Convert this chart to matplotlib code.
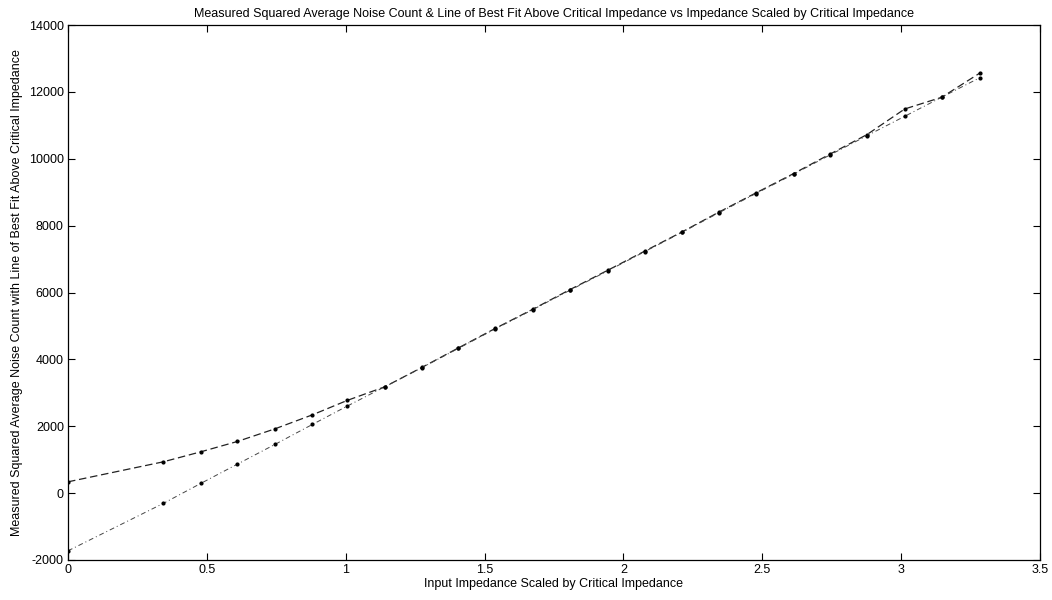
import numpy as np
import matplotlib.pyplot as plt
from matplotlib import font_manager

# impedance scaled by critical impedance
x = [0.0, 0.343, 0.478, 0.61, 0.745, 0.88, 1.005, 1.14, 1.274, 1.406, 1.538, 1.674,
     1.808, 1.944, 2.076, 2.211, 2.345, 2.477, 2.613, 2.743, 2.877, 3.013, 3.146, 3.284]

# measured squared average noise count
measured = [338, 936, 1235, 1545, 1922, 2341, 2771, 3178, 3758, 4344, 4924, 5501,
            6089, 6667, 7235, 7812, 8410, 8978, 9558, 10135, 10723, 11489, 11838, 12566]

# line of best fit above critical impedance
fit = [-1725, -308, 290, 867, 1456, 2054, 2601, 3178, 3750, 4330, 4910, 5490,
       6070, 6650, 7220, 7800, 8390, 8960, 9540, 10110, 10690, 11270, 11840, 12427]

xticks = [0, 0.5, 1, 1.5, 2, 2.5, 3, 3.5]
yticks = [-2000, 0, 2000, 4000, 6000, 8000, 10000, 12000, 14000]

names = {f.name for f in font_manager.fontManager.ttflist}
fam = 'Liberation Sans Narrow' if 'Liberation Sans Narrow' in names else 'Liberation Sans'
plt.rcParams['font.family'] = [fam, 'DejaVu Sans']
fs = 9

dpi = 100
fig = plt.figure(figsize=(1052 / dpi, 600 / dpi), dpi=dpi)
ax = fig.add_axes([68 / 1052, 40 / 600, 972 / 1052, 535 / 600])

ax.plot(x, measured, color='#222222', linestyle=(0, (6, 3)), linewidth=0.9,
        marker='.', markersize=4, markerfacecolor='black', markeredgecolor='black')
ax.plot(x, fit, color='#444444', linestyle=(0, (5, 3, 1, 3)), linewidth=0.7,
        marker='.', markersize=4, markerfacecolor='black', markeredgecolor='black')

ax.set_xlim(0, 3.5)
ax.set_ylim(-2000, 14000)
ax.set_xticks(xticks)
ax.set_xticklabels(['0', '0.5', '1', '1.5', '2', '2.5', '3', '3.5'])
ax.set_yticks(yticks)
ax.set_yticklabels([str(v) for v in yticks])
ax.tick_params(direction='in', top=True, right=True, labelsize=fs, length=5,
               width=0.8, pad=3)
for s in ax.spines.values():
    s.set_linewidth(0.9)

ax.set_title('Measured Squared Average Noise Count & Line of Best Fit Above Critical Impedance '
             'vs Impedance Scaled by Critical Impedance', fontsize=fs, pad=6)
ax.set_xlabel('Input Impedance Scaled by Critical Impedance', fontsize=fs, labelpad=1)
ax.set_ylabel('Measured Squared Average Noise Count with Line of Best Fit Above Critical Impedance',
              fontsize=fs, labelpad=4)

plt.savefig('out.png', dpi=dpi)
